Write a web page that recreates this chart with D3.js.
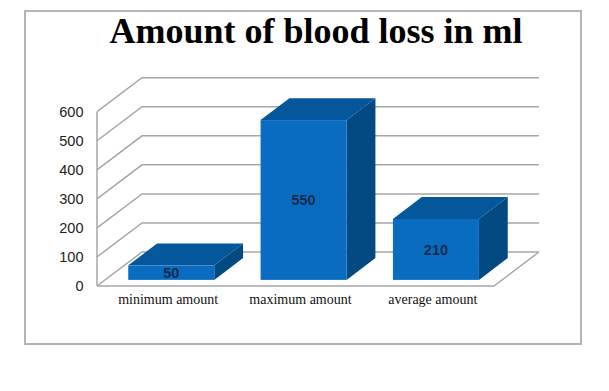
<!DOCTYPE html>
<html><head><meta charset="utf-8">
<script src="https://cdn.jsdelivr.net/npm/d3@7"></script>
<style>body{margin:0;background:#fff}svg{display:block}</style>
</head><body>
<svg id="c" width="609" height="391"></svg>
<script>
const categories = ["minimum amount", "maximum amount", "average amount"];
const values = [50, 550, 210];
const yTicks = [0, 100, 200, 300, 400, 500, 600];
const title = "Amount of blood loss in ml";

const svg = d3.select("#c");
svg.append("rect").attr("x",25).attr("y",11).attr("width",556).attr("height",333)
  .attr("fill","#fff").attr("stroke","#b4b4b4").attr("stroke-width",2);

const x0 = 97, x1 = 494;
const D = [45, -34]; // full depth vector
const y = d3.scaleLinear().domain([0,600]).range([286, 111.7]);
const x = d3.scaleBand().domain(categories).range([x0, x1]).padding(0);
const barFrac = 0.65, dFront = 0.18, dBack = 0.82;

const grid = svg.append("g").attr("fill","none").attr("stroke","#a6a6a6").attr("stroke-width",1.5);
yTicks.forEach(t => {
  const yy = y(t);
  grid.append("polyline").attr("points",
    [[x0,yy],[x0+D[0],yy+D[1]],[x1+D[0],yy+D[1]]].map(p=>p.join(",")).join(" "));
});
grid.append("line").attr("x1",x0).attr("x2",x0).attr("y1",y(0)).attr("y2",y(600));
grid.append("polyline").attr("points",
  [[x0,y(0)],[x1,y(0)],[x1+D[0],y(0)+D[1]]].map(p=>p.join(",")).join(" "));

svg.append("g").selectAll("text").data(yTicks).join("text")
  .attr("x",83.5).attr("y",d=>y(d)).attr("dy","0.35em").attr("text-anchor","end")
  .attr("font-family","Liberation Sans, Arial, sans-serif").attr("font-size",14.5).attr("fill","#222")
  .text(d=>d);

const bars = svg.append("g");
categories.forEach((c,i) => {
  const bw = x.bandwidth()*barFrac;
  const cx = x(c) + x.bandwidth()/2;
  const ox = D[0]*dFront, oy = D[1]*dFront;
  const lx = cx - bw/2 + ox, rx = cx + bw/2 + ox;
  const top = y(values[i]) + oy, bot = y(0) + oy;
  const ddx = D[0]*(dBack-dFront), ddy = D[1]*(dBack-dFront);
  const pts = a => a.map(p=>p.join(",")).join(" ");
  bars.append("polygon").attr("points", pts([[rx,top],[rx+ddx,top+ddy],[rx+ddx,bot+ddy],[rx,bot]])).attr("fill","#044a82");
  bars.append("polygon").attr("points", pts([[lx,top],[lx+ddx,top+ddy],[rx+ddx,top+ddy],[rx,top]])).attr("fill","#05579b");
  bars.append("rect").attr("x",lx).attr("y",top).attr("width",bw).attr("height",bot-top).attr("fill","#0a6cc0");
  bars.append("text").attr("x",(lx+rx)/2).attr("y",(top+bot)/2).attr("dy","0.36em")
    .attr("text-anchor","middle").attr("font-family","Liberation Sans, Arial, sans-serif")
    .attr("font-weight","bold").attr("font-size",14.5).attr("fill","#1b2b4d").text(values[i]);
  svg.append("text").attr("x",cx+5).attr("y",304).attr("text-anchor","middle")
    .attr("font-family","Liberation Serif, Times New Roman, serif").attr("font-size",14).attr("fill","#111")
    .text(c);
});

svg.append("text").attr("x",316).attr("y",43.3).attr("text-anchor","middle")
  .attr("font-family","Liberation Serif, Times New Roman, serif").attr("font-weight","bold")
  .attr("font-size",36).attr("fill","#000").text(title);
</script>
</body></html>
